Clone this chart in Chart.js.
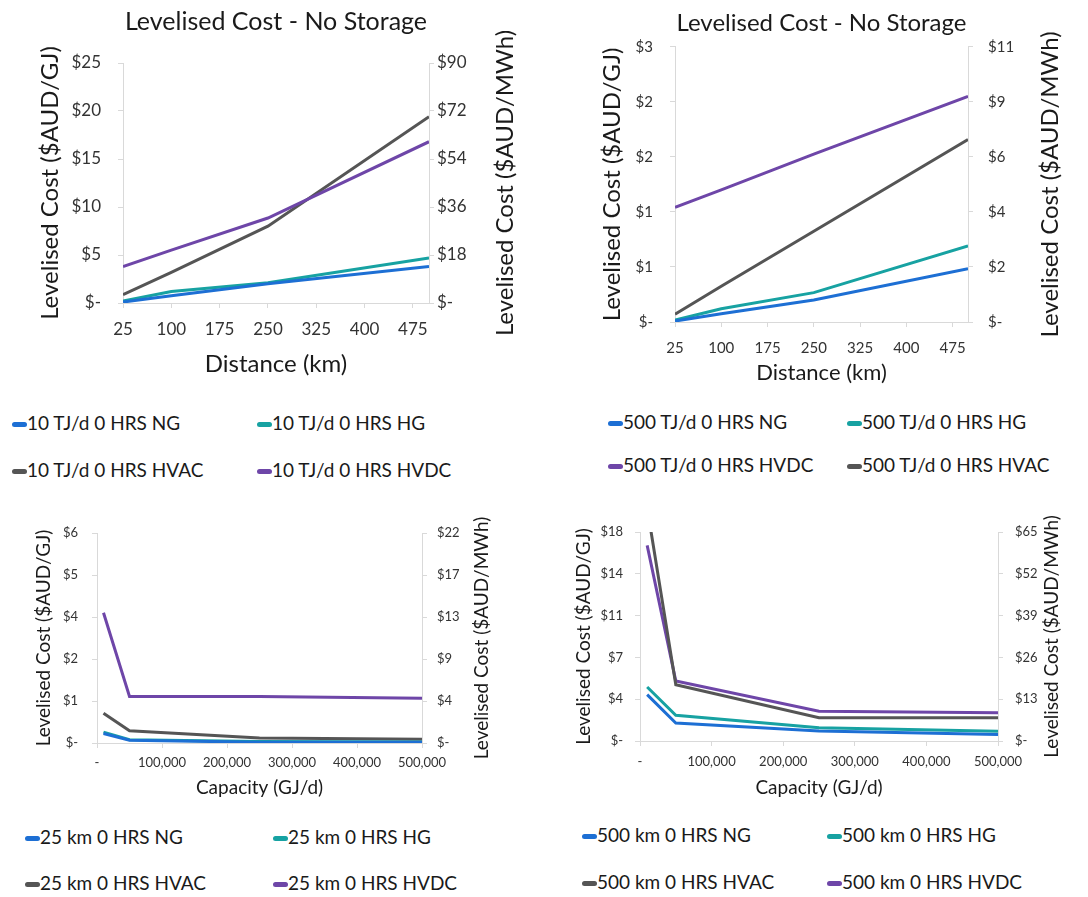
<!DOCTYPE html>
<html>
<head>
<meta charset="utf-8">
<script src="https://cdn.jsdelivr.net/npm/chart.js@4.4.1/dist/chart.umd.min.js"></script>
<style>
  html, body { margin: 0; padding: 0; background: #fff; }
  body { width: 1088px; height: 897px; position: relative; overflow: hidden; font-family: Lato, "Open Sans", sans-serif; }
  canvas { position: absolute; }
  .lg { position: absolute; font-size: 19px; line-height: 22px; color: #1a1a1a; white-space: nowrap; }
  .lg i { display: inline-block; width: 15px; height: 5px; border-radius: 3px; vertical-align: middle; position: relative; top: -1px; }
</style>
</head>
<body>
<canvas id="tl" width="540" height="390" style="left:0;top:0"></canvas>
<canvas id="tr" width="548" height="390" style="left:540px;top:0"></canvas>
<canvas id="bl" width="540" height="310" style="left:0;top:500px"></canvas>
<canvas id="br" width="548" height="310" style="left:540px;top:500px"></canvas>
<div id="legends"></div>
<script>
// x values
const distKm = [25, 100, 250, 500];
const capacityGJd = [10000, 50000, 250000, 500000];

// tick values
const distTicks = [25, 100, 175, 250, 325, 400, 475];
const capTicks = [0, 100000, 200000, 300000, 400000, 500000];
const tlGJTicks = [0, 5, 10, 15, 20, 25];
const tlMWhTicks = [0, 18, 36, 54, 72, 90];
const trGJTicks = [0, 0.6, 1.2, 1.8, 2.4, 3.0];
const trMWhTicks = [0, 2.16, 4.32, 6.48, 8.64, 10.8];
const blGJTicks = [0, 1.2, 2.4, 3.6, 4.8, 6.0];
const blMWhTicks = [0, 4.32, 8.64, 12.96, 17.28, 21.6];
const brGJTicks = [0, 3.6, 7.2, 10.8, 14.4, 18];
const brMWhTicks = [0, 12.96, 25.92, 38.88, 51.84, 64.8];

// 10 TJ/d, cost vs distance ($AUD/GJ)
const tj10NG = [0.1, 0.75, 2.0, 3.8];
const tj10HG = [0.2, 1.2, 2.1, 4.7];
const tj10HVAC = [0.87, 3.2, 8.0, 19.4];
const tj10HVDC = [3.8, 5.5, 8.85, 16.8];

// 500 TJ/d, cost vs distance ($AUD/GJ)
const tj500NG = [0.01, 0.09, 0.24, 0.58];
const tj500HG = [0.02, 0.145, 0.32, 0.83];
const tj500HVDC = [1.25, 1.44, 1.83, 2.46];
const tj500HVAC = [0.084, 0.39, 0.99, 1.99];

// 25 km, cost vs capacity ($AUD/GJ)
const km25NG = [0.27, 0.08, 0.02, 0.02];
const km25HG = [0.31, 0.095, 0.04, 0.03];
const km25HVAC = [0.85, 0.35, 0.14, 0.11];
const km25HVDC = [3.72, 1.33, 1.33, 1.28];

// 500 km, cost vs capacity ($AUD/GJ)
const km500NG = [3.99, 1.55, 0.86, 0.57];
const km500HG = [4.65, 2.21, 1.15, 0.83];
const km500HVAC = [20.1, 4.85, 2.0, 2.0];
const km500HVDC = [16.85, 5.17, 2.56, 2.44];

const COLORS = { NG: '#1d6fd4', HG: '#17a2a2', HVAC: '#555555', HVDC: '#6e46a8' };
const AXIS = '#d9d9d9';

function money(v) { return v === 0 ? '$-' : '$' + Math.round(v); }

// right-hand axis title, read bottom to top like the left one
const rightTitle = {
    id: 'rightTitle',
    afterDraw(chart, args, opts) {
        if (!opts.text) return;
        const s = chart.scales.y2;
        const ctx = chart.ctx;
        ctx.save();
        ctx.translate(s.right - opts.offset, (s.top + s.bottom) / 2);
        ctx.rotate(-Math.PI / 2);
        ctx.font = opts.size + 'px Lato';
        ctx.fillStyle = '#1a1a1a';
        ctx.textAlign = 'center';
        ctx.textBaseline = 'middle';
        ctx.fillText(opts.text, 0, 0);
        ctx.restore();
    }
};
Chart.register(rightTitle);

function buildChart(id, o) {
    const ticksFrom = arr => scale => { scale.ticks = arr.map(v => ({ value: v })); };
    const grid = { display: true, drawOnChartArea: false, color: AXIS, tickLength: 5 };
    const border = { color: AXIS, width: 1 };
    return new Chart(document.getElementById(id), {
        type: 'line',
        data: {
            datasets: o.series.map(s => ({
                label: s.label,
                data: o.x.map((x, i) => ({ x: x, y: s.data[i] })),
                borderColor: COLORS[s.kind],
                backgroundColor: COLORS[s.kind],
                borderWidth: o.lw,
                pointRadius: 0,
                tension: 0,
                clip: 0
            }))
        },
        options: {
            responsive: false,
            animation: false,
            devicePixelRatio: 1,
            layout: { padding: { top: o.padTop || 0, left: 0, right: 0, bottom: 0 } },
            plugins: {
                legend: { display: false },
                tooltip: { enabled: false },
                title: o.title ? {
                    display: true,
                    fullSize: false,
                    text: o.title,
                    color: '#1a1a1a',
                    font: { size: o.titleSize, weight: 'normal' },
                    padding: o.titlePad
                } : { display: false },
                rightTitle: { text: 'Levelised Cost ($AUD/MWh)', size: o.yTitleSize, offset: o.rOffset }
            },
            scales: {
                x: {
                    type: 'linear',
                    min: o.xMin, max: o.xMax,
                    afterBuildTicks: ticksFrom(o.xTicks),
                    afterFit: s => { s.height = o.xH; },
                    ticks: { autoSkip: false, maxRotation: 0, padding: o.xPad, color: '#333', font: { size: o.tickSize }, callback: o.xFmt },
                    grid: grid, border: border,
                    title: { display: true, text: o.xTitle, color: '#1a1a1a', font: { size: o.xTitleSize }, padding: { top: 0, bottom: o.xTitlePad } }
                },
                y: {
                    position: 'left',
                    min: 0, max: o.yTicks[o.yTicks.length - 1],
                    afterBuildTicks: ticksFrom(o.yTicks),
                    afterFit: s => { s.width = o.yW; },
                    ticks: { padding: o.yPad, color: '#333', font: { size: o.tickSize }, callback: money },
                    grid: grid, border: border,
                    title: { display: true, text: 'Levelised Cost ($AUD/GJ)', color: '#1a1a1a', font: { size: o.yTitleSize }, padding: { top: o.yTitlePad, bottom: 0 } }
                },
                y2: {
                    position: 'right',
                    min: 0, max: o.y2Ticks[o.y2Ticks.length - 1],
                    afterBuildTicks: ticksFrom(o.y2Ticks),
                    afterFit: s => { s.width = o.y2W; },
                    ticks: { padding: o.y2Pad, color: '#333', font: { size: o.tickSize }, callback: money },
                    grid: grid, border: border
                }
            }
        }
    });
}

function legend(items) {
    const box = document.getElementById('legends');
    items.forEach(it => {
        const d = document.createElement('div');
        d.className = 'lg';
        d.style.left = it.x + 'px';
        d.style.top = (it.y - 11) + 'px';
        d.innerHTML = '<i style="background:' + COLORS[it.kind] + '"></i>' + it.label;
        box.appendChild(d);
    });
}

function draw() {
    Chart.defaults.font.family = 'Lato';
    const distFmt = v => String(v);
    const capFmt = v => v === 0 ? '-' : v.toLocaleString('en-US');

    buildChart('tl', {
        title: 'Levelised Cost - No Storage', titleSize: 25, titlePad: { top: 7, bottom: 26 },
        x: distKm, xMin: 25, xMax: 500, xTicks: distTicks, xFmt: distFmt, xTitle: 'Distance (km)',
        yTicks: tlGJTicks, y2Ticks: tlMWhTicks,
        yW: 123, y2W: 111, xH: 87, tickSize: 17, xPad: 11, yPad: 17, y2Pad: 3,
        xTitleSize: 24, xTitlePad: 11, yTitleSize: 24, yTitlePad: 36, rOffset: 35, lw: 3,
        series: [
            { label: '10 TJ/d 0 HRS NG', kind: 'NG', data: tj10NG },
            { label: '10 TJ/d 0 HRS HG', kind: 'HG', data: tj10HG },
            { label: '10 TJ/d 0 HRS HVDC', kind: 'HVDC', data: tj10HVDC },
            { label: '10 TJ/d 0 HRS HVAC', kind: 'HVAC', data: tj10HVAC }
        ]
    });

    buildChart('tr', {
        title: 'Levelised Cost - No Storage', titleSize: 24, titlePad: { top: 9, bottom: 9 },
        x: distKm, xMin: 25, xMax: 500, xTicks: distTicks, xFmt: distFmt, xTitle: 'Distance (km)',
        yTicks: trGJTicks, y2Ticks: trMWhTicks,
        yW: 135, y2W: 120, xH: 68, tickSize: 15, xPad: 12, yPad: 17, y2Pad: 15,
        xTitleSize: 22, xTitlePad: 4, yTitleSize: 24, yTitlePad: 58, rOffset: 38, lw: 3,
        series: [
            { label: '500 TJ/d 0 HRS NG', kind: 'NG', data: tj500NG },
            { label: '500 TJ/d 0 HRS HG', kind: 'HG', data: tj500HG },
            { label: '500 TJ/d 0 HRS HVAC', kind: 'HVAC', data: tj500HVAC },
            { label: '500 TJ/d 0 HRS HVDC', kind: 'HVDC', data: tj500HVDC }
        ]
    });

    buildChart('bl', {
        padTop: 33,
        x: capacityGJd, xMin: 0, xMax: 500000, xTicks: capTicks, xFmt: capFmt, xTitle: 'Capacity (GJ/d)',
        yTicks: blGJTicks, y2Ticks: blMWhTicks,
        yW: 97, y2W: 118, xH: 67, tickSize: 13, xPad: 7, yPad: 14, y2Pad: 10,
        xTitleSize: 19, xTitlePad: 11, yTitleSize: 19, yTitlePad: 32, rOffset: 58, lw: 3,
        series: [
            { label: '25 km 0 HRS NG', kind: 'NG', data: km25NG },
            { label: '25 km 0 HRS HG', kind: 'HG', data: km25HG },
            { label: '25 km 0 HRS HVAC', kind: 'HVAC', data: km25HVAC },
            { label: '25 km 0 HRS HVDC', kind: 'HVDC', data: km25HVDC }
        ]
    });

    buildChart('br', {
        padTop: 32,
        x: capacityGJd, xMin: 0, xMax: 500000, xTicks: capTicks, xFmt: capFmt, xTitle: 'Capacity (GJ/d)',
        yTicks: brGJTicks, y2Ticks: brMWhTicks,
        yW: 100, y2W: 90, xH: 69, tickSize: 13, xPad: 8, yPad: 12, y2Pad: 12,
        xTitleSize: 19, xTitlePad: 11, yTitleSize: 19, yTitlePad: 32, rOffset: 36, lw: 3,
        series: [
            { label: '500 km 0 HRS NG', kind: 'NG', data: km500NG },
            { label: '500 km 0 HRS HG', kind: 'HG', data: km500HG },
            { label: '500 km 0 HRS HVAC', kind: 'HVAC', data: km500HVAC },
            { label: '500 km 0 HRS HVDC', kind: 'HVDC', data: km500HVDC }
        ]
    });

    legend([
        { label: '10 TJ/d 0 HRS NG', kind: 'NG', x: 12, y: 423 },
        { label: '10 TJ/d 0 HRS HG', kind: 'HG', x: 257, y: 423 },
        { label: '10 TJ/d 0 HRS HVAC', kind: 'HVAC', x: 12, y: 470 },
        { label: '10 TJ/d 0 HRS HVDC', kind: 'HVDC', x: 257, y: 470 },
        { label: '500 TJ/d 0 HRS NG', kind: 'NG', x: 608, y: 422 },
        { label: '500 TJ/d 0 HRS HG', kind: 'HG', x: 847, y: 422 },
        { label: '500 TJ/d 0 HRS HVDC', kind: 'HVDC', x: 608, y: 465 },
        { label: '500 TJ/d 0 HRS HVAC', kind: 'HVAC', x: 847, y: 465 },
        { label: '25 km 0 HRS NG', kind: 'NG', x: 25, y: 837 },
        { label: '25 km 0 HRS HG', kind: 'HG', x: 273, y: 837 },
        { label: '25 km 0 HRS HVAC', kind: 'HVAC', x: 25, y: 883 },
        { label: '25 km 0 HRS HVDC', kind: 'HVDC', x: 273, y: 883 },
        { label: '500 km 0 HRS NG', kind: 'NG', x: 582, y: 835 },
        { label: '500 km 0 HRS HG', kind: 'HG', x: 827, y: 835 },
        { label: '500 km 0 HRS HVAC', kind: 'HVAC', x: 582, y: 882 },
        { label: '500 km 0 HRS HVDC', kind: 'HVDC', x: 827, y: 882 }
    ]);
}

document.addEventListener('DOMContentLoaded', function() {
    document.fonts.load('18px Lato').then(draw, draw);
});
</script>
</body>
</html>
